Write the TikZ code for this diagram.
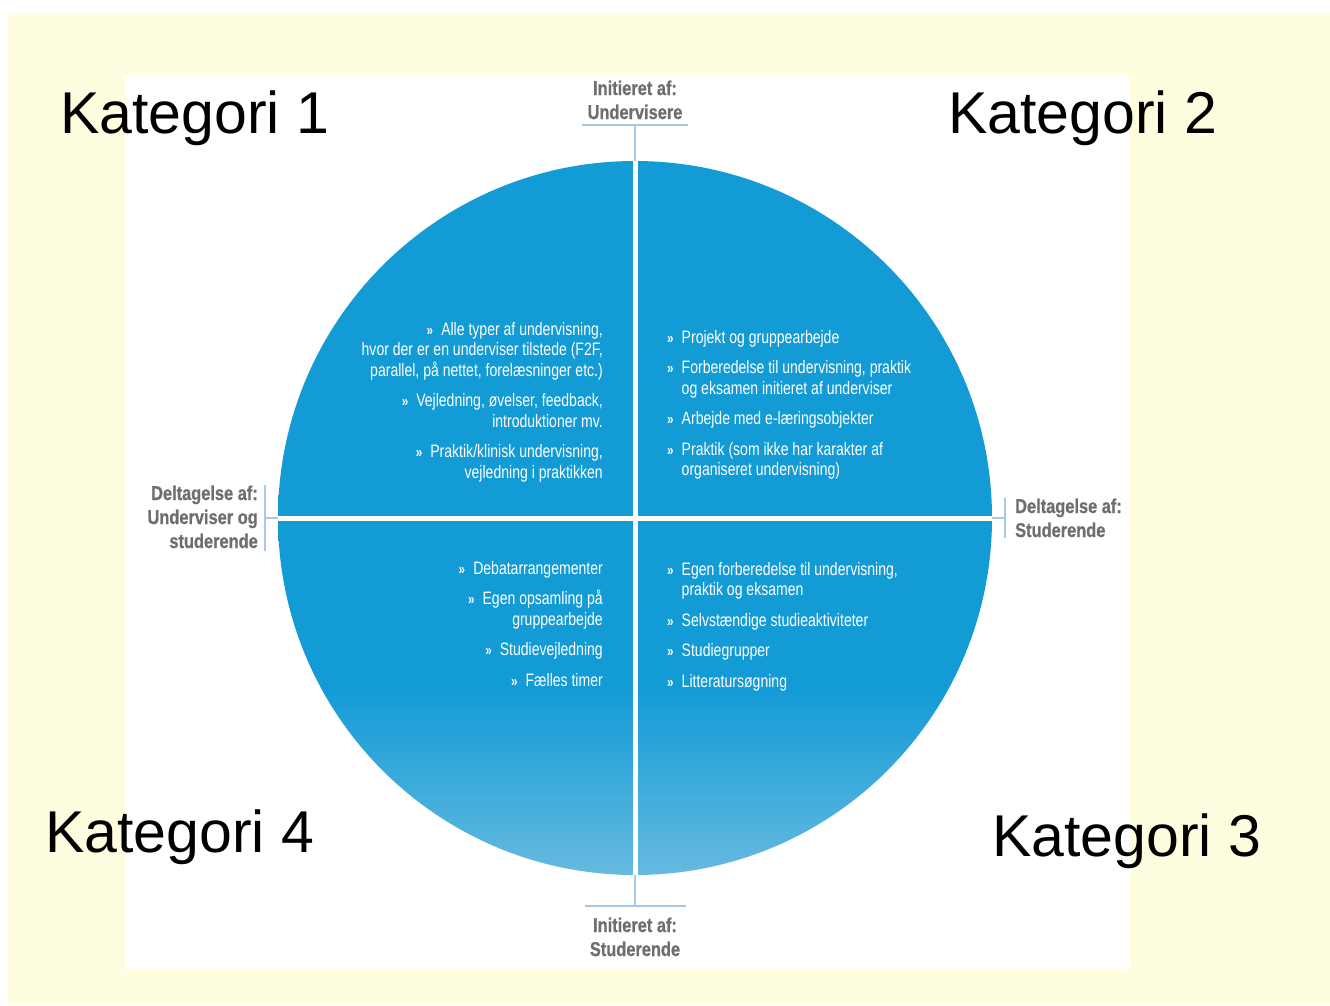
\documentclass[tikz,border=0pt]{standalone}
\usepackage{fontspec}
\setmainfont{Liberation Sans}
\newfontfamily\condfont[FakeStretch=0.78]{Liberation Sans}
\newfontfamily\axisfont[FakeStretch=0.82,FakeBold=0.6]{Liberation Sans}
\usepackage{xcolor}
\definecolor{bgyellow}{HTML}{FFFDE0}
\definecolor{discdark}{HTML}{139BD6}
\definecolor{disclight}{HTML}{66BAE0}
\definecolor{ticks}{HTML}{A8C8E6}
\definecolor{labelgray}{HTML}{6E6E70}
\pgfdeclareverticalshading{discfade}{100bp}{color(0bp)=(disclight); color(25bp)=(disclight); color(38bp)=(discdark); color(100bp)=(discdark)}
\newcommand\bul{{\fontsize{15}{15}\selectfont\bfseries »}}

\begin{document}
\begin{tikzpicture}[x=1pt, y=-1pt,
  kat/.style={font=\fontsize{59}{70}\selectfont, inner sep=0pt},
  axis/.style={font=\axisfont\bfseries\fontsize{20}{24}\selectfont, text=labelgray, inner sep=0pt},
  items/.style={font=\condfont\fontsize{18}{20.5}\selectfont, text=white, inner sep=0pt},
  tick/.style={ticks, line width=2pt},
  cross/.style={white, line width=5pt}]
\fill[white] (0,0) rectangle (1330,1005);
\fill[bgyellow] (8,13) rectangle (1330,1005);
\fill[white] (125,75) rectangle (1129,969);
\node[circle, minimum size=714pt, inner sep=0pt, shading=discfade] (disc) at (635,518) {};
\draw[cross] (disc.north) -- (disc.south);
\draw[cross] (disc.west) -- (disc.east);

\coordinate (tn) at (635,125);
\coordinate (ts) at (635,906);
\coordinate (tw) at (265,518);
\coordinate (te) at (1005,518);
\draw[tick] (disc.north) -- (tn) ++(-53,0) -- ++(106,0);
\draw[tick] (disc.south) -- (ts) ++(-50,0) -- ++(101,0);
\draw[tick] (disc.west) -- (tw) ++(0,-33) -- ++(0,66);
\draw[tick] (disc.east) -- (te) ++(0,-20) -- ++(0,40);

\node[axis, anchor=base] (initU) at (635,95) {\begin{tabular}[t]{@{}c@{}}Initieret af:\\Undervisere\end{tabular}};
\node[axis, anchor=base] (initS) at (635,932) {\begin{tabular}[t]{@{}c@{}}Initieret af:\\Studerende\end{tabular}};
\node[axis, anchor=base east] (deltUS) at (258,500) {\begin{tabular}[t]{@{}r@{}}Deltagelse af:\\Underviser og\\studerende\end{tabular}};
\node[axis, anchor=base west] (deltS) at (1015,513) {\begin{tabular}[t]{@{}l@{}}Deltagelse af:\\Studerende\end{tabular}};

\node[items, anchor=base east] (q1) at (603,335) {\begin{tabular}[t]{@{}r@{}}
\bul\hspace{8pt}Alle typer af undervisning,\\
hvor der er en underviser tilstede (F2F,\\
parallel, på nettet, forelæsninger etc.)\\[10pt]
\bul\hspace{8pt}Vejledning, øvelser, feedback,\\
introduktioner mv.\\[10pt]
\bul\hspace{8pt}Praktik/klinisk undervisning,\\
vejledning i praktikken
\end{tabular}};
\node[items, anchor=base west] (q2) at (667,343) {\begin{tabular}[t]{@{}l@{\hspace{8pt}}l@{}}
\bul & Projekt og gruppearbejde\\[10pt]
\bul & Forberedelse til undervisning, praktik\\
 & og eksamen initieret af underviser\\[10pt]
\bul & Arbejde med e-læringsobjekter\\[10pt]
\bul & Praktik (som ikke har karakter af\\
 & organiseret undervisning)
\end{tabular}};
\node[items, anchor=base west] (q3) at (667,575) {\begin{tabular}[t]{@{}l@{\hspace{8pt}}l@{}}
\bul & Egen forberedelse til undervisning,\\
 & praktik og eksamen\\[10pt]
\bul & Selvstændige studieaktiviteter\\[10pt]
\bul & Studiegrupper\\[10pt]
\bul & Litteratursøgning
\end{tabular}};
\node[items, anchor=base east] (q4) at (603,574) {\begin{tabular}[t]{@{}r@{}}
\bul\hspace{8pt}Debatarrangementer\\[10pt]
\bul\hspace{8pt}Egen opsamling på\\
gruppearbejde\\[10pt]
\bul\hspace{8pt}Studievejledning\\[10pt]
\bul\hspace{8pt}Fælles timer
\end{tabular}};

\node[kat, anchor=base west] (kat1) at (60,133) {Kategori 1};
\node[kat, anchor=base west] (kat2) at (948,133) {Kategori 2};
\node[kat, anchor=base west] (kat3) at (992,856) {Kategori 3};
\node[kat, anchor=base west] (kat4) at (45,852) {Kategori 4};
\end{tikzpicture}
\end{document}
